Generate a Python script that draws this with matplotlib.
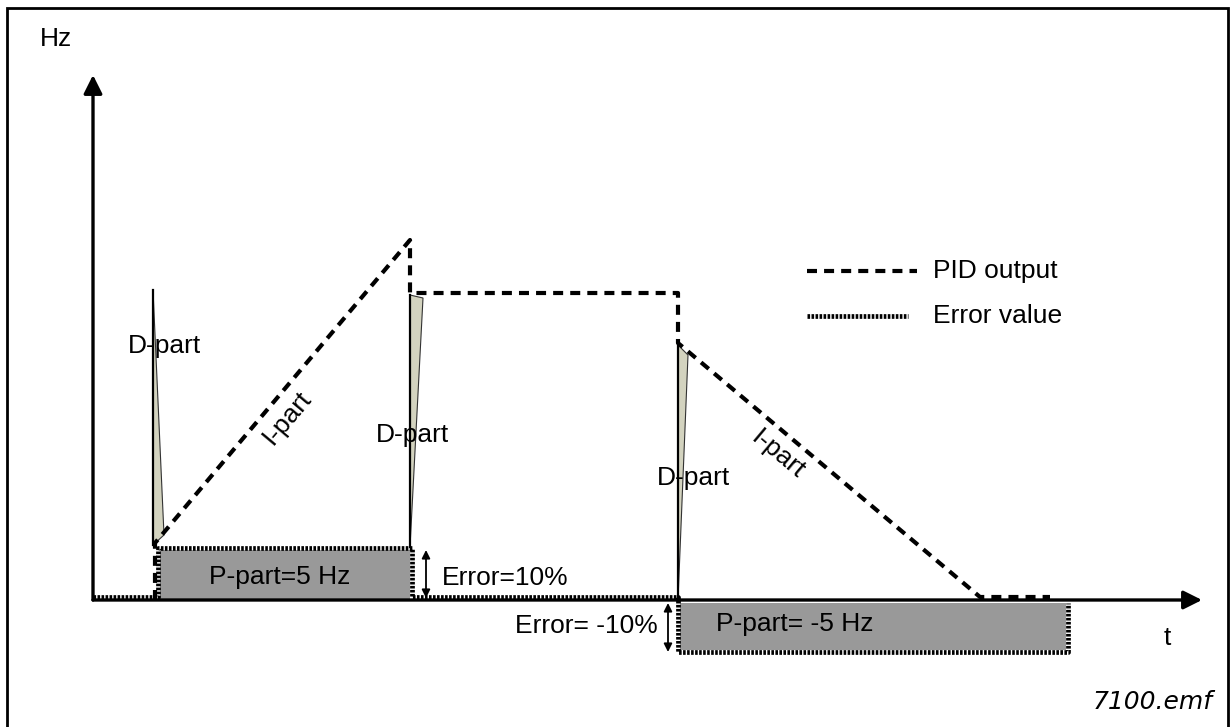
import matplotlib
matplotlib.use("Agg")
import matplotlib.pyplot as plt
from matplotlib.patches import Rectangle, Polygon

plt.rcParams['font.family'] = ['Liberation Sans', 'DejaVu Sans']

# ---- data (time units, Hz) ----
pid_t = [6.2, 6.2, 31.7, 31.7, 58.5, 58.5, 88.7, 95.7]
pid_hz = [0.0, 5.7, 36.0, 30.7, 30.7, 25.7, 0.3, 0.3]

err_t = [0.0, 6.5, 6.5, 31.9, 31.9, 58.5, 58.5, 97.5, 97.5]
err_hz = [0.3, 0.3, 5.2, 5.2, 0.3, 0.3, -5.2, -5.2, -0.3]

p_parts = [(6.7, 31.7, 5.0, "P-part=5 Hz"), (58.7, 97.3, -5.0, "P-part= -5 Hz")]

d_spikes = [
    [(6.0, 31.0), (7.1, 6.5), (6.0, 5.5)],
    [(31.7, 30.5), (33.0, 30.2), (31.7, 5.3)],
    [(58.5, 25.5), (59.5, 24.5), (58.5, 0.0)],
]
d_label_pos = [(7.1, 25.4), (31.9, 16.5), (60.0, 12.2)]
i_label_pos = [(19.4, 18.2, 50), (68.5, 14.5, -40)]

err_arrows = [(33.3, 0.2, 5.0), (57.5, -0.3, -5.2)]

fig = plt.figure(figsize=(12.31, 7.27), dpi=100)
ax = fig.add_axes([0, 0, 1, 1])
ax.set_xlim(-9.3, 113.8)
ax.set_ylim(-12.7, 60.0)
ax.axis('off')

FS = 19
dash = (0, (2.4, 1.7))
dot = (0, (0.55, 0.3))

# border
ax.add_patch(Rectangle((0.0057, -0.05), 0.992, 0.989 + 0.05, transform=ax.transAxes,
                       fill=False, lw=2.0, ec='black', clip_on=False))

# gray P-part rectangles
for t0, t1, h, lab in p_parts:
    ax.add_patch(Rectangle((t0, 0 if h > 0 else -0.3), t1 - t0, h if h > 0 else h + 0.3,
                           fc='#999999', ec='none', zorder=1))

# D-part spikes
for poly in d_spikes:
    ax.add_patch(Polygon(poly, closed=True, fc='#d3d3bf', ec='#333333', lw=0.8, zorder=2))
    ax.plot([poly[0][0], poly[2][0]], [poly[0][1], poly[2][1]], color='black', lw=1.6, zorder=3)

# axes arrows
ax.annotate('', xy=(0, 52.5), xytext=(0, 0),
            arrowprops=dict(arrowstyle='-|>', lw=2.4, color='black', mutation_scale=28,
                            shrinkA=0, shrinkB=0), zorder=4)
ax.annotate('', xy=(110.9, 0), xytext=(0, 0),
            arrowprops=dict(arrowstyle='-|>', lw=2.4, color='black', mutation_scale=28,
                            shrinkA=0, shrinkB=0), zorder=4)

# error value (dotted)
ax.plot(err_t, err_hz, color='black', lw=3.4, linestyle=dot, zorder=5)
# PID output (dashed)
ax.plot(pid_t, pid_hz, color='black', lw=3.0, linestyle=dash, zorder=6)

# error arrows
for t, y0, y1 in err_arrows:
    ax.annotate('', xy=(t, y1), xytext=(t, y0),
                arrowprops=dict(arrowstyle='<|-|>', lw=1.3, color='black', mutation_scale=12,
                                shrinkA=0, shrinkB=0), zorder=4)

# labels
for (x, y) in d_label_pos:
    ax.text(x, y, "D-part", fontsize=FS, ha='center', va='center', zorder=2)
for (x, y, r) in i_label_pos:
    ax.text(x, y, "I-part", fontsize=FS, ha='center', va='center', rotation=r,
            rotation_mode='anchor', zorder=2)

ax.text(18.7, 2.3, p_parts[0][3], fontsize=FS, ha='center', va='center', zorder=7)
ax.text(62.3, -2.4, p_parts[1][3], fontsize=FS, ha='left', va='center', zorder=7)
ax.text(34.9, 2.2, "Error=10%", fontsize=FS, ha='left', va='center')
ax.text(56.5, -2.6, "Error= -10%", fontsize=FS, ha='right', va='center')

ax.text(-3.7, 56.1, "Hz", fontsize=FS, ha='center', va='center')
ax.text(107.4, -3.8, "t", fontsize=FS, ha='center', va='center')
ax.text(112.0, -10.2, "7100.emf", fontsize=18, ha='right', va='center',
        family='DejaVu Sans', style='oblique')

# legend
ax.plot([71.4, 82.4], [32.9, 32.9], color='black', lw=3.0, linestyle=dash)
ax.text(84.0, 32.9, "PID output", fontsize=FS, ha='left', va='center')
ax.plot([71.4, 81.5], [28.4, 28.4], color='black', lw=3.4, linestyle=dot)
ax.text(84.0, 28.4, "Error value", fontsize=FS, ha='left', va='center')

fig.savefig("out.png", dpi=100)
